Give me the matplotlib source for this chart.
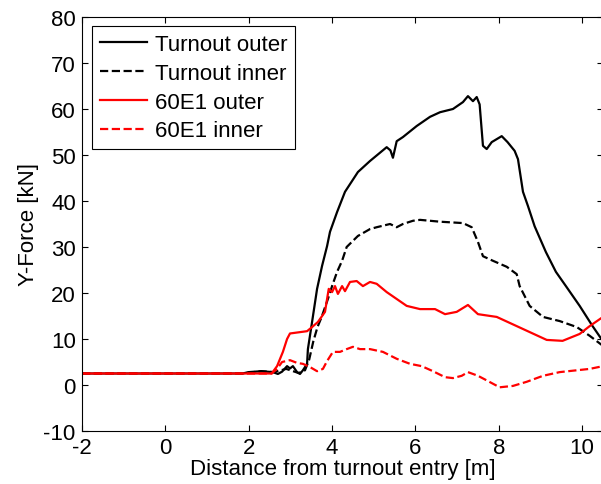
import matplotlib
matplotlib.use('Agg')
import matplotlib.pyplot as plt

plt.rcParams['font.family'] = ['Liberation Sans', 'DejaVu Sans']
plt.rcParams['axes.unicode_minus'] = False

# Lateral wheel force along the turnout, outer and inner rail
outer_x = [-2, 1.85, 2.0, 2.3, 2.58, 2.70, 2.80, 2.92, 2.99, 3.06, 3.16, 3.23, 3.30, 3.40,
           3.42, 3.52, 3.64, 3.76, 3.88, 3.95, 4.12, 4.31, 4.62, 4.91, 5.31, 5.40, 5.46,
           5.55, 5.70, 6.03, 6.35, 6.59, 6.90, 7.14, 7.26, 7.38, 7.47, 7.54, 7.62, 7.71,
           7.83, 8.07, 8.21, 8.38, 8.46, 8.58, 8.70, 8.86, 9.13, 9.37, 9.61, 9.94, 10.25, 10.5]
outer_y = [2.5, 2.5, 2.8, 3.0, 2.8, 2.4, 2.9, 4.1, 3.6, 4.1, 2.8, 2.4, 3.2, 4.6,
           7.8, 13.7, 20.9, 25.9, 30.2, 33.3, 37.6, 42.0, 46.3, 48.7, 51.7, 51.0, 49.4,
           53.0, 53.9, 56.3, 58.3, 59.3, 60.0, 61.5, 62.8, 61.7, 62.6, 61.0, 52.0, 51.3,
           52.8, 54.1, 52.8, 50.9, 49.1, 42.0, 38.9, 34.5, 28.9, 24.6, 21.5, 17.2, 12.8, 9.5]

inner_x = [-2, 1.85, 2.3, 2.6, 2.9, 3.2, 3.35, 3.45, 3.55, 3.65, 3.75, 3.90, 4.00, 4.12,
           4.24, 4.35, 4.62, 4.91, 5.07, 5.39, 5.55, 5.70, 5.94, 6.11, 6.59, 7.14, 7.35,
           7.50, 7.62, 7.86, 8.19, 8.43, 8.50, 8.74, 9.06, 9.46, 9.87, 10.18, 10.5]
inner_y = [2.5, 2.5, 3.0, 2.8, 3.5, 2.6, 3.2, 5.5, 9.5, 12.6, 14.8, 18.7, 21.5, 24.6,
           27.0, 30.0, 32.4, 33.9, 34.3, 35.0, 34.3, 35.0, 35.7, 35.9, 35.5, 35.2, 34.3,
           31.1, 28.0, 27.0, 25.7, 24.1, 21.5, 17.2, 14.8, 13.9, 12.6, 10.7, 8.5]

rail_outer_x = [-2, 2.55, 2.68, 2.82, 2.92, 2.99, 3.40, 3.52, 3.66, 3.83, 3.88, 3.92, 4.00,
                4.07, 4.14, 4.24, 4.31, 4.43, 4.59, 4.74, 4.91, 5.07, 5.31, 5.55, 5.79,
                6.11, 6.47, 6.71, 6.99, 7.26, 7.50, 7.95, 8.43, 9.15, 9.53, 9.94, 10.18, 10.5]
rail_outer_y = [2.5, 2.5, 4.1, 7.2, 10.0, 11.2, 11.7, 12.6, 13.7, 15.9, 18.7, 20.9, 20.2,
                21.5, 19.8, 21.5, 20.4, 22.4, 22.6, 21.5, 22.4, 22.0, 20.2, 18.7, 17.2,
                16.5, 16.5, 15.4, 15.9, 17.4, 15.4, 14.8, 12.8, 9.8, 9.6, 11.1, 12.8, 14.8]

rail_inner_x = [-2, 2.55, 2.68, 2.80, 2.99, 3.16, 3.30, 3.47, 3.64, 3.78, 3.88, 4.02, 4.19,
                4.35, 4.50, 4.67, 4.91, 5.22, 5.55, 5.87, 6.15, 6.42, 6.71, 6.90, 7.11,
                7.26, 7.50, 7.71, 8.02, 8.34, 8.67, 9.06, 9.46, 9.87, 10.18, 10.5]
rail_inner_y = [2.5, 2.5, 3.5, 5.0, 5.4, 4.8, 4.6, 3.9, 3.0, 3.5, 5.2, 7.2, 7.2,
                7.8, 8.3, 7.8, 7.8, 7.2, 5.7, 4.6, 4.1, 3.0, 1.7, 1.5, 2.0,
                2.8, 2.0, 1.0, -0.5, -0.2, 0.7, 2.0, 2.8, 3.2, 3.5, 4.1]

fig = plt.figure(figsize=(6.01, 4.85), dpi=100)
ax = fig.add_axes([82 / 601, 53 / 485, 521 / 601, 414 / 485])

ax.plot(outer_x, outer_y, 'k-', lw=1.6, label='Turnout outer')
ax.plot(inner_x, inner_y, 'k--', lw=1.6, label='Turnout inner')
ax.plot(rail_outer_x, rail_outer_y, 'r-', lw=1.6, label='60E1 outer')
ax.plot(rail_inner_x, rail_inner_y, 'r--', lw=1.6, label='60E1 inner')

ax.set_xlim(-2, 10.5)
ax.set_ylim(-10, 80)
ax.set_xticks([-2, 0, 2, 4, 6, 8, 10])
ax.set_yticks(range(-10, 81, 10))
ax.tick_params(direction='in', top=True, right=True, labelsize=16, length=4, width=0.8)
ax.tick_params(axis='x', pad=4)
ax.tick_params(axis='y', pad=4.5)
for s in ax.spines.values():
    s.set_linewidth(0.8)

ax.set_xlabel('Distance from turnout entry [m]', fontsize=16, labelpad=0)
ax.set_ylabel('Y-Force [kN]', fontsize=16, labelpad=3)

leg = ax.legend(loc='upper left', bbox_to_anchor=(10 / 521, 1 - 9 / 414), borderaxespad=0,
                fontsize=16, fancybox=False, edgecolor='black', framealpha=1,
                handlelength=2.1, handletextpad=0.36, labelspacing=0.35, borderpad=0.36)
leg.get_frame().set_linewidth(0.8)

fig.savefig('out.png', dpi=100)
